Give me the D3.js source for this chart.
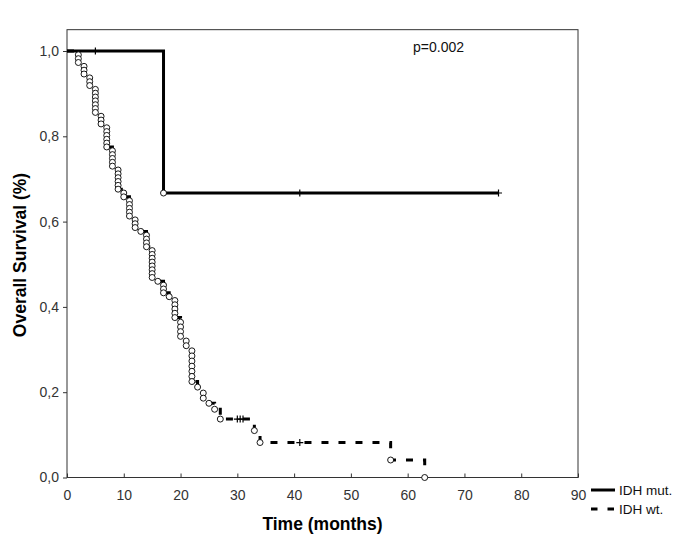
<!DOCTYPE html>
<html><head><meta charset="utf-8">
<script src="https://cdn.jsdelivr.net/npm/d3@7/dist/d3.min.js"></script>
<style>body{margin:0;background:#fff}</style>
</head><body>
<svg id="chart" width="685" height="547"></svg>
<script>
// ---- data ----
const xTicks = [0, 10, 20, 30, 40, 50, 60, 70, 80, 90];
const yTicks = [0.0, 0.2, 0.4, 0.6, 0.8, 1.0];
const seriesNames = ["IDH mut.", "IDH wt."];
const pValueLabel = "p=0.002";

// IDH mut. (solid)
const mutEventTimes = [17];
const mutEventSurv = [0.667];
const mutCensorTimes = [5, 41, 76];
const mutCensorSurv = [1.0, 0.667, 0.667];
const mutEndTime = 76;

// IDH wt. (dashed): one entry per death
const wtEventTimes = [
  2, 2, 2,
  3, 3, 3,
  4, 4, 4,
  5, 5, 5, 5, 5, 5, 5,
  6, 6, 6,
  7, 7, 7, 7, 7, 7,
  8, 8, 8, 8, 8,
  9, 9, 9, 9, 9, 9,
  10, 10,
  11, 11, 11, 11, 11,
  12, 12, 12,
  13,
  14, 14, 14, 14,
  15, 15, 15, 15, 15, 15, 15, 15,
  16,
  17, 17, 17,
  18,
  19, 19, 19, 19, 19,
  20, 20, 20, 20,
  21, 21,
  22, 22, 22, 22, 22, 22, 22,
  23,
  24, 24,
  25,
  26,
  27,
  33,
  34,
  57,
  63
];
const wtEventSurv = [
  0.991, 0.982, 0.973,
  0.964, 0.955, 0.946,
  0.937, 0.928, 0.919,
  0.910, 0.901, 0.892, 0.883, 0.874, 0.865, 0.856,
  0.847, 0.838, 0.829,
  0.820, 0.811, 0.802, 0.793, 0.784, 0.775,
  0.766, 0.757, 0.748, 0.739, 0.730,
  0.721, 0.712, 0.703, 0.694, 0.685, 0.676,
  0.667, 0.658,
  0.649, 0.640, 0.631, 0.622, 0.613,
  0.604, 0.595, 0.586,
  0.577,
  0.568, 0.559, 0.550, 0.541,
  0.532, 0.523, 0.514, 0.505, 0.496, 0.487, 0.478, 0.469,
  0.460,
  0.451, 0.442, 0.433,
  0.424,
  0.415, 0.405, 0.395, 0.385, 0.375,
  0.364, 0.353, 0.342, 0.331,
  0.320, 0.309,
  0.297, 0.285, 0.273, 0.261, 0.249, 0.237, 0.225,
  0.212,
  0.198, 0.186,
  0.174,
  0.160,
  0.137,
  0.110,
  0.082,
  0.041,
  0.000
];
const wtCensorTimes = [30, 30.5, 31, 41];
const wtCensorSurv = [0.137, 0.137, 0.137, 0.082];

// ---- chart ----
const svg = d3.select("#chart");
const FONT = "'Liberation Sans', Arial, sans-serif";
svg.append("rect").attr("width", 685).attr("height", 547).attr("fill", "#fff");

const x = d3.scaleLinear().domain([0, 90]).range([67, 578]);
const y = d3.scaleLinear().domain([0, 1]).range([477.5, 51]);
const plotTop = y(1.05);

// frame
svg.append("rect")
  .attr("x", x(0)).attr("y", plotTop)
  .attr("width", x(90) - x(0)).attr("height", y(0) - plotTop)
  .attr("fill", "none").attr("stroke", "#333").attr("stroke-width", 1);

// axes
const yAxis = svg.append("g").attr("transform", `translate(${x(0)},0)`)
  .call(d3.axisLeft(y).tickValues(yTicks).tickSize(4).tickPadding(4)
    .tickFormat(d => d3.format(".1f")(d).replace(".", ",")));
const xAxis = svg.append("g").attr("transform", `translate(0,${y(0)})`)
  .call(d3.axisBottom(x).tickValues(xTicks).tickSize(-4).tickPadding(13)
    .tickFormat(d3.format("d")));
[yAxis, xAxis].forEach(g => {
  g.select(".domain").remove();
  g.selectAll(".tick line").attr("stroke", "#333");
  g.selectAll("text").attr("font-family", FONT).attr("font-size", 14).attr("fill", "#333");
});

// axis titles
svg.append("text").attr("x", x(45)).attr("y", 530)
  .attr("text-anchor", "middle").attr("font-family", FONT)
  .attr("font-weight", "bold").attr("font-size", 17.5).attr("fill", "#000")
  .text("Time (months)");
svg.append("text").attr("transform", `translate(26,255) rotate(-90)`)
  .attr("text-anchor", "middle").attr("font-family", FONT)
  .attr("font-weight", "bold").attr("font-size", 17.5).attr("fill", "#000")
  .text("Overall Survival (%)");

// p value
svg.append("text").attr("x", 413).attr("y", 52)
  .attr("font-family", FONT).attr("font-size", 14).attr("fill", "#111")
  .text(pValueLabel);

const stepLine = d3.line().x(d => x(d[0])).y(d => y(d[1])).curve(d3.curveStepAfter);

// wt line
const wtPts = [[0, 1]].concat(wtEventTimes.map((t, i) => [t, wtEventSurv[i]]));
svg.append("path").attr("d", stepLine(wtPts))
  .attr("fill", "none").attr("stroke", "#000").attr("stroke-width", 3)
  .attr("stroke-dasharray", "7,10");

// mut line
const mutPts = [[0, 1]].concat(mutEventTimes.map((t, i) => [t, mutEventSurv[i]]))
  .concat([[mutEndTime, mutEventSurv[mutEventSurv.length - 1]]]);
svg.append("path").attr("d", stepLine(mutPts))
  .attr("fill", "none").attr("stroke", "#000").attr("stroke-width", 3);

// censor marks
function censors(times, surv) {
  svg.append("g").selectAll("path").data(times).join("path")
    .attr("d", (t, i) => {
      const cx = x(t), cy = y(surv[i]);
      return `M${cx - 3.5},${cy}H${cx + 3.5}M${cx},${cy - 3.5}V${cy + 3.5}`;
    })
    .attr("stroke", "#000").attr("stroke-width", 1.2).attr("fill", "none");
}
censors(wtCensorTimes, wtCensorSurv);
censors(mutCensorTimes, mutCensorSurv);

// event circles
function events(times, surv) {
  svg.append("g").selectAll("circle").data(times).join("circle")
    .attr("cx", t => x(t)).attr("cy", (t, i) => y(surv[i])).attr("r", 3)
    .attr("fill", "#fff").attr("stroke", "#000").attr("stroke-width", 0.9);
}
events(wtEventTimes, wtEventSurv);
events(mutEventTimes, mutEventSurv);

// legend
const lg = svg.append("g");
lg.append("line").attr("x1", 591).attr("x2", 615).attr("y1", 490).attr("y2", 490)
  .attr("stroke", "#000").attr("stroke-width", 3);
lg.append("line").attr("x1", 591).attr("x2", 615).attr("y1", 509).attr("y2", 509)
  .attr("stroke", "#000").attr("stroke-width", 3).attr("stroke-dasharray", "6.5,10");
lg.selectAll("text").data(seriesNames).join("text")
  .attr("x", 619).attr("y", (d, i) => 495 + i * 19)
  .attr("font-family", FONT).attr("font-size", 13.5).attr("fill", "#111")
  .text(d => d);
</script>
</body></html>
